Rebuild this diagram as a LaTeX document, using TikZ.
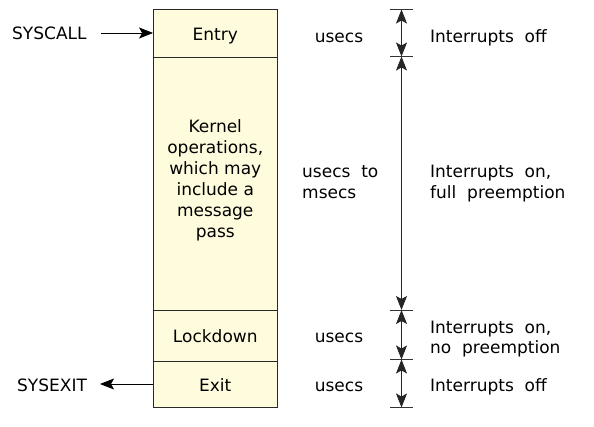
\documentclass[tikz,border=0pt]{standalone}
\usepackage{fontspec}
\setmainfont{DejaVu Sans}
\usetikzlibrary{arrows.meta}
\definecolor{boxfill}{RGB}{255,252,221}
\definecolor{boxline}{RGB}{40,40,40}
\tikzset{
  tip/.tip={Stealth[length=14pt,width=11pt,inset=3pt]},
  seg/.style={draw=boxline, line width=0.9pt, fill=boxfill, minimum width=123.5pt, inner sep=0pt, align=center},
  one/.style={text height=15pt, text depth=0pt},
  lbl/.style={inner sep=0pt, align=left},
  arr/.style={-tip, line width=0.9pt},
  dim/.style={tip-tip, line width=0.9pt, draw=black!85},
  tick/.style={line width=0.9pt, draw=black!80}
}
\begin{document}
\begin{tikzpicture}[x=1pt,y=-1pt,font=\fontsize{17}{20.5}\selectfont]
\useasboundingbox (0,0) rectangle (594,427);
% column segments
\node[seg, one, minimum height=48pt] (entry) at (215.25,33) {Entry};
\node[seg, minimum height=253pt] (kernel) at (215.25,183.5) {};
\node[lbl, align=center, font=\fontsize{17}{21}\selectfont] (ktext) at (215.25,180.5) {Kernel\\operations,\\which may\\include a\\message\\pass};
\node[seg, one, minimum height=51pt] (lock) at (215.25,335.5) {Lockdown};
\node[seg, one, minimum height=46pt] (exit) at (215.25,384) {Exit};
% side labels
\node[lbl, anchor=base west] (syscall) at (12,39.3) {SYSCALL};
\node[lbl, anchor=base west] (sysexit) at (17,391.5) {SYSEXIT};
\draw[arr] (101,33) -- (entry.west);
\draw[arr] (exit.west) -- (100,384);
% time labels
\node[lbl, anchor=base] (u1) at (339,42.5) {usecs};
\node[lbl, anchor=west] (u2) at (302,182.2) {usecs\ \ to\\msecs};
\node[lbl, anchor=base] (u3) at (339,342.7) {usecs};
\node[lbl, anchor=base] (u4) at (339,391.5) {usecs};
% interrupt labels
\node[lbl, anchor=base west] (i1) at (430,42.7) {Interrupts\ \ off};
\node[lbl, anchor=west] (i2) at (430,183.7) {Interrupts\ \ on,\\full\ \ preemption};
\node[lbl, anchor=west] (i3) at (430,339.3) {Interrupts\ \ on,\\no\ \ preemption};
\node[lbl, anchor=base west] (i4) at (430,391) {Interrupts\ \ off};
% ticks
\coordinate (t0) at (401.5,9.5);
\coordinate (t1) at (401.5,56.5);
\coordinate (t2) at (401.5,310);
\coordinate (t3) at (401.5,359.5);
\coordinate (t4) at (401.5,407.5);
\foreach \t in {t0,t1,t2,t3,t4}{
  \draw[tick] ([xshift=-11.5pt]\t) -- ([xshift=11.5pt]\t);
}
\draw[dim] (t0) -- (t1);
\draw[dim] (t1) -- (t2);
\draw[dim] (t2) -- (t3);
\draw[dim] (t3) -- (t4);
\end{tikzpicture}
\end{document}
